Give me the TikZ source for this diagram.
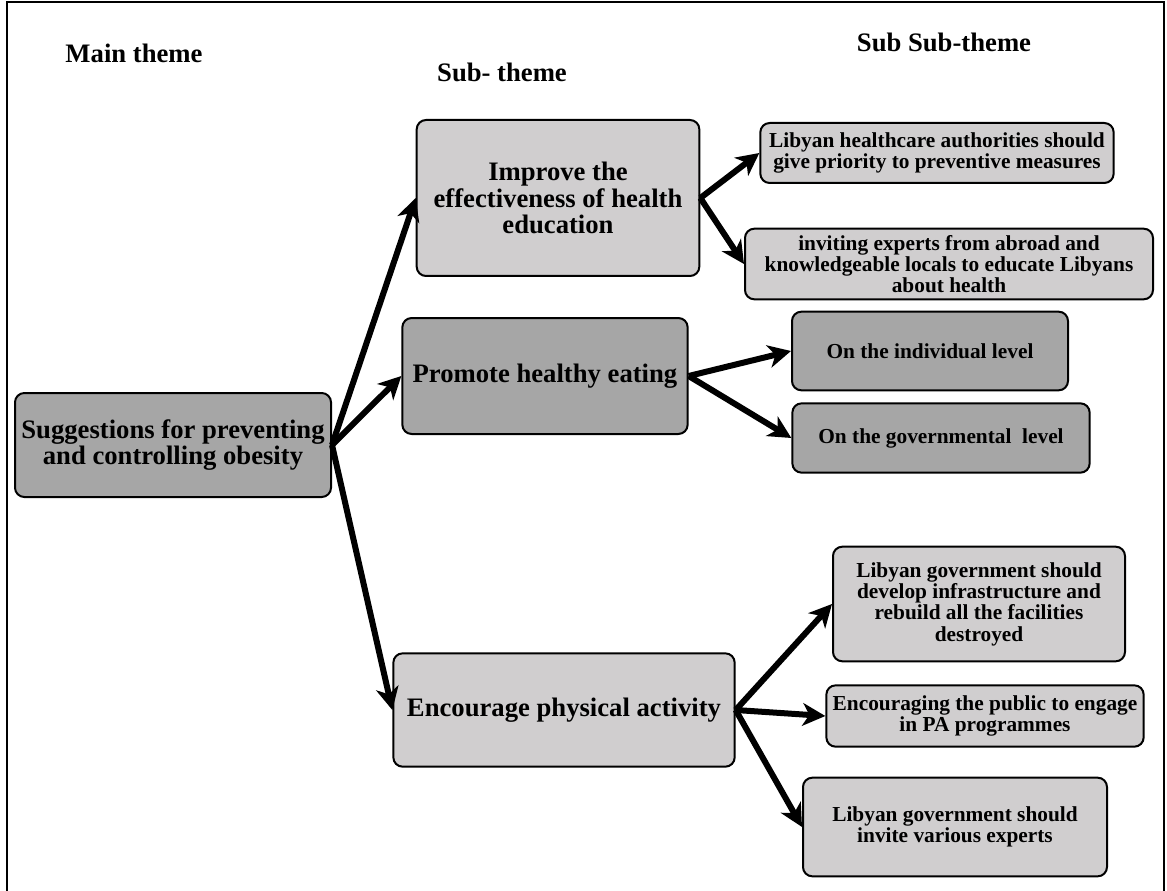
\documentclass[tikz,border=0pt]{standalone}
\usepackage{fontspec}
\setmainfont{Liberation Serif}
\usetikzlibrary{arrows.meta,positioning}

\definecolor{lightbox}{RGB}{208,206,207}
\definecolor{darkbox}{RGB}{166,166,166}

\tikzset{
  themebox/.style={draw=black, line width=1.5pt, rounded corners=7pt, align=center,
    inner sep=2pt, font=\bfseries\fontsize{20}{20}\selectfont},
  detailbox/.style={themebox, font=\bfseries\fontsize{16}{16}\selectfont},
  heading/.style={anchor=base, font=\bfseries\fontsize{20}{20}\selectfont},
  link/.style={-{Stealth[length=17pt,width=17pt,inset=5pt]}, line width=4.5pt},
}

\begin{document}
\begin{tikzpicture}[x=0.75pt,y=-0.75pt]
    \useasboundingbox (0,0) rectangle (1167,891);
    % frame
    \draw[line width=1.5pt] (7,891) -- (7,2) -- (1164,2) -- (1164,891);

    % column headings
    \node[heading] (hmain) at (134,63) {Main theme};
    \node[heading] (hsub) at (502,82) {Sub- theme};
    \node[heading] (hsubsub) at (944,52) {Sub Sub-theme};

    % main theme
    \node[themebox, fill=darkbox, minimum width=237pt, minimum height=78pt] (main) at (173,445)
        {Suggestions for preventing\\and controlling obesity};

    % sub-themes
    \node[themebox, fill=lightbox, minimum width=212pt, minimum height=117pt] (educ) at (558,198)
        {Improve the\\effectiveness of health\\education};
    \node[themebox, fill=darkbox, minimum width=214pt, minimum height=87pt] (eat) at (545,376)
        {Promote healthy eating};
    \node[themebox, fill=lightbox, minimum width=256pt, minimum height=85pt] (active) at (564,710)
        {Encourage physical activity};

    % sub sub-themes
    \node[detailbox, fill=lightbox, minimum width=265pt, minimum height=45pt] (prio) at (937,153)
        {Libyan healthcare authorities should\\give priority to preventive measures};
    \node[detailbox, fill=lightbox, minimum width=306pt, minimum height=53pt] (abroad) at (949,264)
        {inviting experts from abroad and\\knowledgeable locals to educate Libyans\\about health};
    \node[detailbox, fill=darkbox, minimum width=207pt, minimum height=59pt] (indiv) at (930,351)
        {On the individual level};
    \node[detailbox, fill=darkbox, minimum width=223pt, minimum height=52pt] (gov) at (941,438)
        {On the governmental~~level};
    \node[detailbox, fill=lightbox, minimum width=219pt, minimum height=86pt] (infra) at (979,604)
        {Libyan government should\\develop infrastructure and\\rebuild all the facilities\\destroyed};
    \node[detailbox, fill=lightbox, minimum width=238pt, minimum height=46pt] (public) at (985,716)
        {Encouraging the public to engage\\in PA programmes};
    \node[detailbox, fill=lightbox, minimum width=228pt, minimum height=74pt] (experts) at (955,827)
        {Libyan government should\\invite various experts};

    % arrows
    \draw[link] (main.east) -- (educ.west);
    \draw[link] (main.east) -- (eat.west);
    \draw[link] (main.east) -- (active.west);
    \draw[link] (educ.east) -- (prio.west);
    \draw[link] (educ.east) -- (abroad.west);
    \draw[link] (eat.east) -- (indiv.west);
    \draw[link] (eat.east) -- (gov.west);
    \draw[link] (active.east) -- (infra.west);
    \draw[link] (active.east) -- (public.west);
    \draw[link] (active.east) -- (experts.west);
\end{tikzpicture}
\end{document}
